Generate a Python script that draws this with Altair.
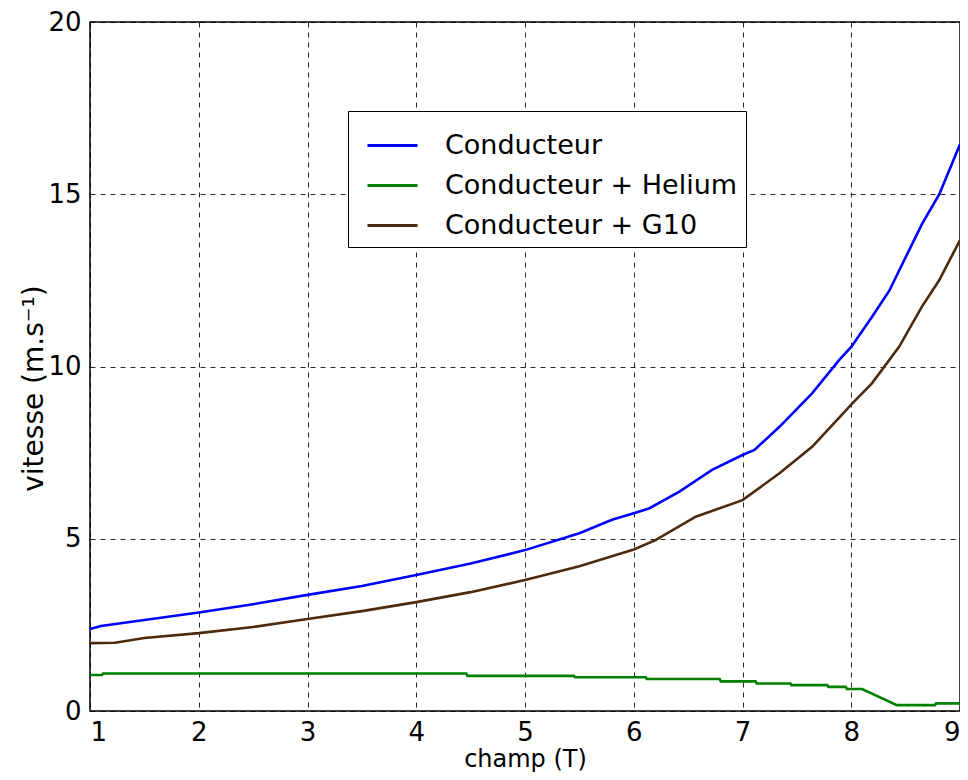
import altair as alt
import pandas as pd

series_names = ["Conducteur", "Conducteur + Helium", "Conducteur + G10"]
series_colors = ["#0000FF", "#008000", "#4C2A0E"]

blue_x = [1, 1.1, 1.5, 2, 2.5, 3, 3.5, 4, 4.5, 5, 5.5, 5.8, 6, 6.14, 6.42, 6.72, 7, 7.11, 7.34, 7.64, 7.89, 8, 8.19, 8.35, 8.5, 8.65, 8.81, 9]
blue_y = [2.38, 2.47, 2.64, 2.86, 3.1, 3.37, 3.63, 3.95, 4.28, 4.67, 5.16, 5.55, 5.74, 5.88, 6.37, 7.0, 7.43, 7.58, 8.25, 9.22, 10.19, 10.57, 11.44, 12.2, 13.17, 14.13, 15.0, 16.45]

green_x = [1, 1.11, 1.12, 4.46, 4.47, 5.45, 5.46, 6.11, 6.12, 6.79, 6.8, 7.12, 7.13, 7.44, 7.45, 7.78, 7.79, 7.95, 7.96, 8.1, 8.42, 8.77, 8.78, 9]
green_y = [1.045, 1.045, 1.09, 1.09, 1.02, 1.02, 0.98, 0.98, 0.93, 0.93, 0.86, 0.86, 0.80, 0.80, 0.75, 0.75, 0.70, 0.70, 0.64, 0.64, 0.17, 0.17, 0.22, 0.22]

brown_x = [1, 1.23, 1.5, 2, 2.5, 3, 3.5, 4, 4.5, 5, 5.5, 6, 6.2, 6.57, 7, 7.34, 7.64, 7.87, 8.01, 8.19, 8.44, 8.65, 8.81, 9]
brown_y = [1.97, 1.98, 2.12, 2.26, 2.44, 2.67, 2.9, 3.16, 3.45, 3.8, 4.2, 4.69, 4.96, 5.64, 6.12, 6.9, 7.67, 8.45, 8.93, 9.51, 10.57, 11.74, 12.51, 13.67]

x_ticks = [1, 2, 3, 4, 5, 6, 7, 8, 9]
y_ticks = [0, 5, 10, 15, 20]

rows = []
for name, xs, ys in [(series_names[0], blue_x, blue_y),
                     (series_names[1], green_x, green_y),
                     (series_names[2], brown_x, brown_y)]:
    for i, (a, b) in enumerate(zip(xs, ys)):
        rows.append({"champ": a, "vitesse": b, "serie": name, "order": i})
df = pd.DataFrame(rows)

FONT = "DejaVu Sans"

chart = alt.Chart(df).mark_line(strokeWidth=2.6).encode(
    x=alt.X("champ:Q", scale=alt.Scale(domain=[1, 9], nice=False),
            axis=alt.Axis(values=x_ticks, title="champ (T)", format="d",
                          labelPadding=8, titleY=55, titleFontSize=24,
                          titleBaseline="alphabetic")),
    y=alt.Y("vitesse:Q", scale=alt.Scale(domain=[0, 20], nice=False),
            axis=alt.Axis(values=y_ticks, title="vitesse (m.s⁻¹)", format="d",
                          labelPadding=9, titleX=-48, titleY=366, titleFontSize=28,
                          titleBaseline="alphabetic")),
    color=alt.Color("serie:N",
                    scale=alt.Scale(domain=series_names, range=series_colors),
                    sort=series_names,
                    legend=alt.Legend(title=None, orient="none", legendX=258, legendY=89,
                                      symbolType="stroke", symbolSize=2500,
                                      symbolStrokeWidth=3, symbolOffset=10,
                                      labelOffset=26, labelFontSize=27, labelFont=FONT,
                                      labelColor="black", labelLimit=500,
                                      rowPadding=-10, padding=8,
                                      strokeColor="black", fillColor="white")),
    order="order:Q",
    detail="serie:N",
).properties(
    width=870, height=689,
    autosize=alt.AutoSizeParams(type="none"),
    padding={"left": 82, "top": 14, "right": 0, "bottom": 61},
).configure_view(
    stroke="black", strokeWidth=1.5
).configure_axis(
    grid=True, gridColor="black", gridDash=[5, 5], gridWidth=1, gridOpacity=0.85,
    domain=False, ticks=False,
    labelFont=FONT, labelFontSize=26, labelColor="black",
    titleFont=FONT, titleFontSize=26, titleFontWeight="normal", titleColor="black",
)

chart.save("out.html", embed_options={"renderer": "svg", "actions": False})
